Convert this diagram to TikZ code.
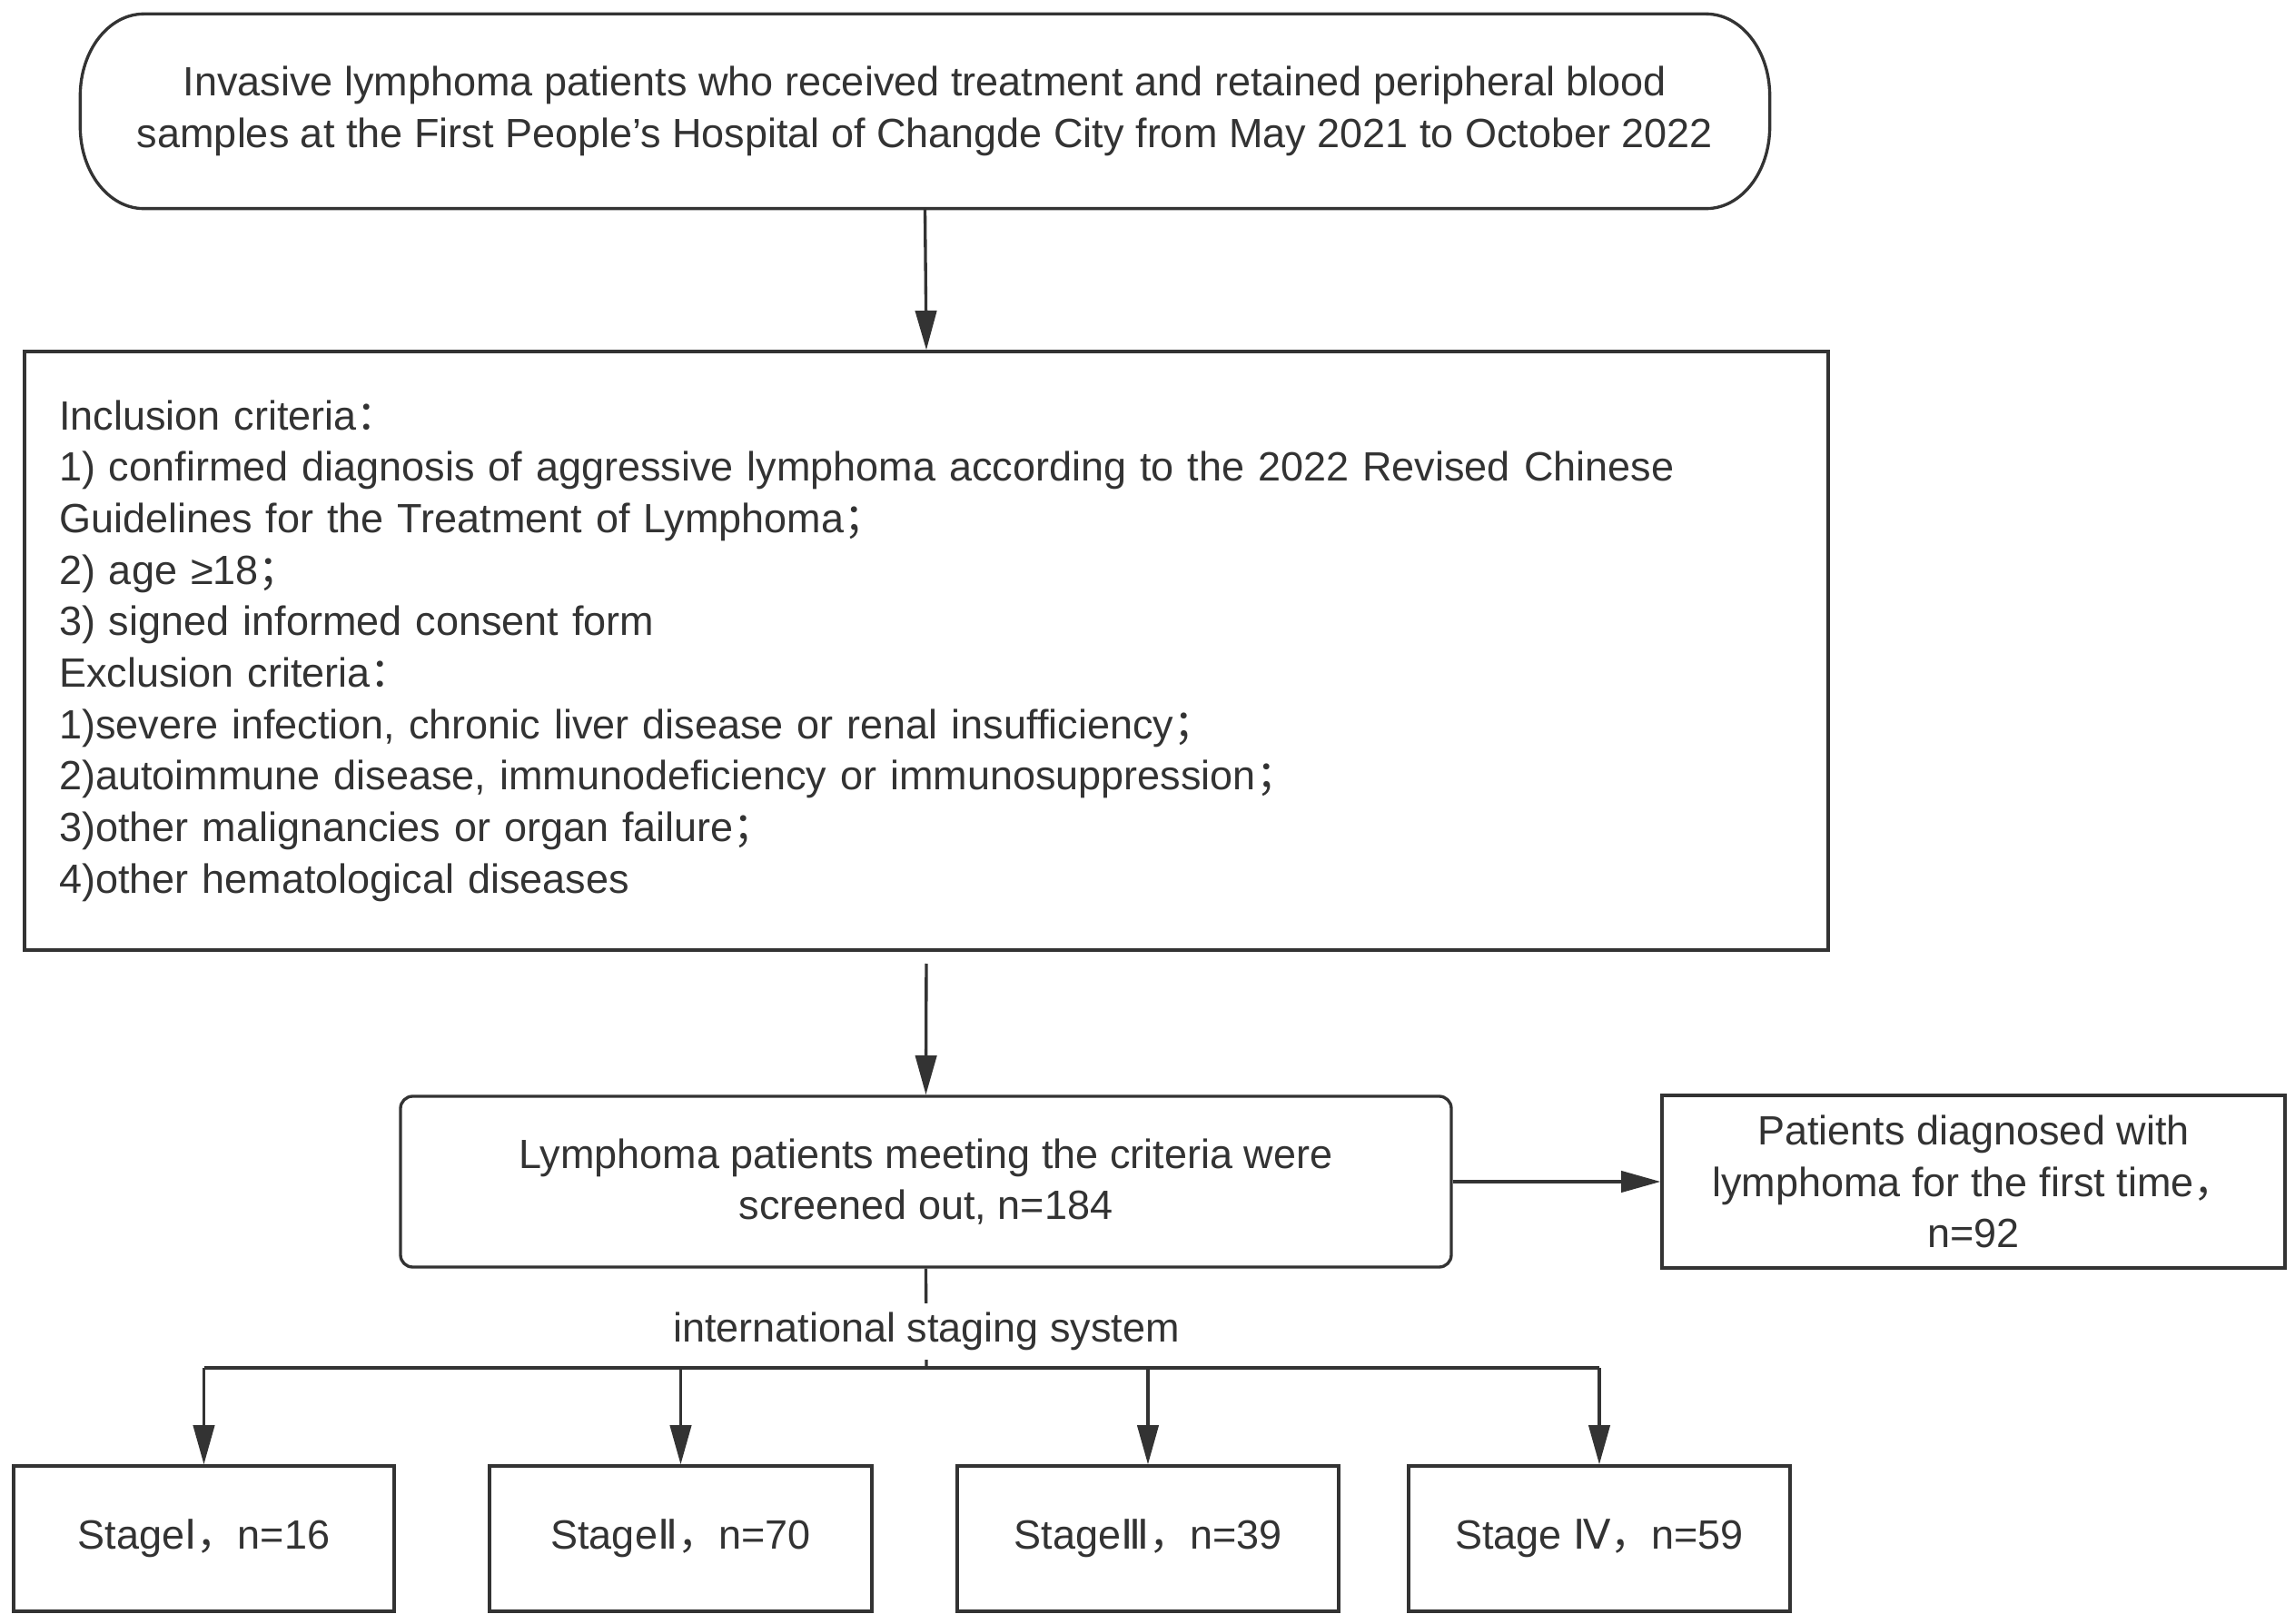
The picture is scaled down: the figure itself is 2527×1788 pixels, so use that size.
\documentclass[tikz,border=0pt]{standalone}
\usepackage{fontspec}
\setmainfont{Liberation Sans}
\newfontfamily\cjk{Noto Sans CJK SC}
\newfontfamily\djv{DejaVu Sans}
\usetikzlibrary{arrows.meta}
\newcommand{\fcomma}{{\cjk ，}}
\newcommand{\fcolon}{{\cjk ：}}
\newcommand{\fsemi}{{\cjk ；}}
\newcommand{\rmn}[1]{{\djv #1}}
\definecolor{ink}{HTML}{333333}
\begin{document}
\begin{tikzpicture}[x=0.3pt,y=-0.3pt,
  txt/.style={text=ink, font=\fontsize{13.5}{17}\selectfont, inner sep=0pt, align=center},
  box/.style={txt, draw=ink, line width=1pt, fill=white},
  arr/.style={-{Triangle[length=13pt,width=7pt]}, draw=ink, line width=1pt},
  lin/.style={draw=ink, line width=1pt}]
\useasboundingbox[fill=white] (0,0) rectangle (2527,1788);
% top terminator
\node[txt, minimum width=557.7pt, minimum height=63.9pt] (top) at (1018.5,122.5)
  {Invasive lymphoma patients who received treatment and retained peripheral blood\\
   samples at the First People's Hospital of Changde City from May 2021 to October 2022};
\draw[lin] ([xshift=21pt]top.north west) -- ([xshift=-21pt]top.north east)
  arc[start angle=90, end angle=0, x radius=21pt, y radius=27pt]
  -- ([yshift=27pt]top.south east)
  arc[start angle=0, end angle=-90, x radius=21pt, y radius=27pt]
  -- ([xshift=21pt]top.south west)
  arc[start angle=270, end angle=180, x radius=21pt, y radius=27pt]
  -- ([yshift=-27pt]top.north west)
  arc[start angle=180, end angle=90, x radius=21pt, y radius=27pt] -- cycle;
% criteria box
\node[box, align=left, text width=573pt, inner xsep=11.4pt, minimum height=197.7pt] (crit) at (1020,716.5)
  {Inclusion criteria\fcolon\\
   1) confirmed diagnosis of aggressive lymphoma according to the 2022 Revised Chinese\\
   Guidelines for the Treatment of Lymphoma\fsemi\\
   2) age ≥18\fsemi\\
   3) signed informed consent form\\
   Exclusion criteria\fcolon\\
   1)severe infection, chronic liver disease or renal insufficiency\fsemi\\
   2)autoimmune disease, immunodeficiency or immunosuppression\fsemi\\
   3)other malignancies or organ failure\fsemi\\
   4)other hematological diseases};
% screened box
\node[box, rounded corners=4pt, minimum width=347.1pt, minimum height=56.4pt] (scr) at (1019.5,1301)
  {Lymphoma patients meeting the criteria were\\screened out, n=184};
\node[box, minimum width=205.8pt, minimum height=57pt] (first) at (2173,1301)
  {Patients diagnosed with\\lymphoma for the first time\fcomma\\n=92};
% stage boxes
\node[box, minimum width=125.7pt, minimum height=48pt] (s1) at (224.5,1694) {Stage\rmn{Ⅰ}\fcomma n=16};
\node[box, minimum width=126.3pt, minimum height=48pt] (s2) at (749.5,1694) {Stage\rmn{Ⅱ}\fcomma n=70};
\node[box, minimum width=126pt, minimum height=48pt] (s3) at (1264,1694) {Stage\rmn{Ⅲ}\fcomma n=39};
\node[box, minimum width=126pt, minimum height=48pt] (s4) at (1761,1694) {Stage \rmn{Ⅳ}\fcomma n=59};
% connectors
\draw[arr] (top.south) -- (crit.north);
\draw[arr, shorten <=4pt] (crit.south) -- (scr.north);
\draw[arr] (scr.east) -- (first.west);
\coordinate (split) at (1020,1506);
\draw[lin] (scr.south) -- (split);
\draw[lin] (s1.north |- split) -- (s4.north |- split);
\draw[arr] (s1.north |- split) -- (s1.north);
\draw[arr] (s2.north |- split) -- (s2.north);
\draw[arr] (s3.north |- split) -- (s3.north);
\draw[arr] (s4.north |- split) -- (s4.north);
\node[txt, fill=white, inner xsep=2pt, inner ysep=3pt] (lab) at (1020,1466) {international staging system};
\end{tikzpicture}
\end{document}
